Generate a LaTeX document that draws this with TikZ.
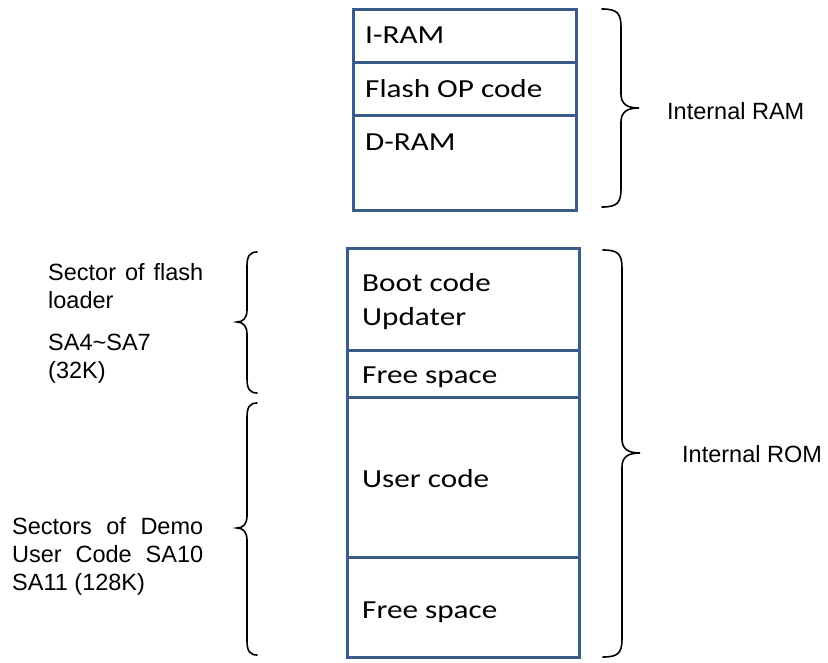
\documentclass[tikz,border=0pt]{standalone}
\usepackage{fontspec}
\setmainfont{Liberation Sans}
\newfontfamily\boxfont[FakeStretch=1.2]{Carlito}
\usetikzlibrary{positioning}
\definecolor{memblue}{RGB}{56,93,138}

\begin{document}
\begin{tikzpicture}[x=1pt, y=-1pt,
        memline/.style={draw=memblue, line width=3pt},
        cell/.style={font=\boxfont\fontsize{26}{34}\selectfont, anchor=base west, inner sep=0pt, align=left},
        side/.style={font=\fontsize{23.5}{28}\selectfont, anchor=base west, inner sep=0pt, align=left},
        curly/.style={line width=1.6pt, line cap=round}]
    \useasboundingbox (0,0) rectangle (828,662);

    % internal RAM
    \draw[memline] (353,9) rectangle (576,210);
    \draw[memline] (353,62) -- (576,62);
    \draw[memline] (353,115) -- (576,115);
    \node[cell] (iram) at (365,43) {I-RAM};
    \node[cell] (flashop) at (365,97) {Flash OP code};
    \node[cell] (dram) at (365,150) {D-RAM};

    % internal ROM
    \draw[memline] (347,248) rectangle (579,657);
    \draw[memline] (347,350) -- (579,350);
    \draw[memline] (347,397) -- (579,397);
    \draw[memline] (347,557) -- (579,557);
    \node[cell] (boot) at (362,325) {Boot code\\ Updater};
    \node[cell] (free1) at (362,383) {Free space};
    \node[cell] (user) at (362,487) {User code};
    \node[cell] (free2) at (362,618) {Free space};

    % braces
    \draw[curly] (602,9) .. controls (617,9) and (621,13) .. (621,27) -- (621,94)
        .. controls (621,104) and (627,108) .. (639,108)
        .. controls (627,108) and (621,112) .. (621,122) -- (621,189)
        .. controls (621,203) and (617,207) .. (602,207);
    \draw[curly] (603,250) .. controls (618,250) and (622,254) .. (622,268) -- (622,439)
        .. controls (622,449) and (628,453) .. (640,453)
        .. controls (628,453) and (622,457) .. (622,467) -- (622,639)
        .. controls (622,653) and (618,657) .. (603,657);
    \draw[curly] (257,252) .. controls (250,252) and (247,256) .. (247,266) -- (247,310)
        .. controls (247,318) and (243,322) .. (237,322)
        .. controls (243,322) and (247,326) .. (247,334) -- (247,379)
        .. controls (247,389) and (250,393) .. (257,393);
    \draw[curly] (257,403) .. controls (250,403) and (247,407) .. (247,417) -- (247,516)
        .. controls (247,524) and (243,528) .. (237,528)
        .. controls (243,528) and (247,532) .. (247,540) -- (247,641)
        .. controls (247,651) and (250,655) .. (257,655);

    % labels
    \node[side] (ramlbl) at (667,119) {Internal RAM};
    \node[side] (romlbl) at (682,462) {Internal ROM};
    \node[side] (flashsec) at (48,378) {\makebox[155pt][s]{Sector of flash}\\ loader\\[14pt] SA4\textasciitilde SA7\\ (32K)};
    \node[side] (demosec) at (12,590) {\makebox[191pt][s]{Sectors of Demo}\\ \makebox[191pt][s]{User Code SA10}\\ SA11 (128K)};
\end{tikzpicture}
\end{document}
